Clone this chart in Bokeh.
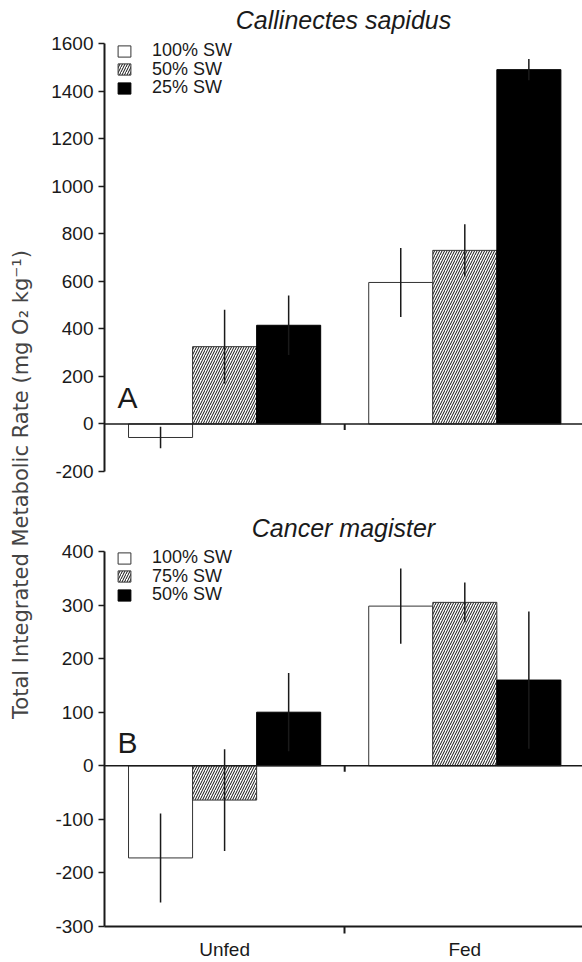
import math

from bokeh.embed import file_html
from bokeh.layouts import column, row
from bokeh.models import FixedTicker, Label, Legend, LegendItem, Range1d, Span
from bokeh.plotting import figure
from bokeh.resources import INLINE

# ---- data -----------------------------------------------------------------
groups = ["Unfed", "Fed"]
group_x = [1, 2]

# Panel A: Callinectes sapidus
cs_labels = ["100% SW", "50% SW", "25% SW"]
cs_100_mean = [-57, 595]
cs_100_se = [45, 145]
cs_50_mean = [325, 730]
cs_50_se = [155, 110]
cs_25_mean = [415, 1490]
cs_25_se = [125, 45]
cs_yticks = [-200, 0, 200, 400, 600, 800, 1000, 1200, 1400, 1600]

# Panel B: Cancer magister
cm_labels = ["100% SW", "75% SW", "50% SW"]
cm_100_mean = [-172, 298]
cm_100_se = [83, 70]
cm_75_mean = [-64, 305]
cm_75_se = [95, 37]
cm_50_mean = [100, 160]
cm_50_se = [73, 128]
cm_yticks = [-300, -200, -100, 0, 100, 200, 300, 400]

y_label = "Total Integrated Metabolic Rate (mg O\u2082 kg\u207b\u00b9)"

# ---- styling ----------------------------------------------------------------
FONT = "Liberation Sans"
INK = "#1a1a1a"
BAR_W = 0.8 / 3
STYLES = [
    dict(fill_color="white", line_color="#333333", line_width=1),
    dict(fill_color="white", line_color="#333333", line_width=1,
         hatch_pattern="/", hatch_color="#111111", hatch_scale=5, hatch_weight=1),
    dict(fill_color="black", line_color="black", line_width=1),
]
PLOT_W = 542
LEFT = 64
HEAD = 9  # free pixels above the top tick, room for the key
KEY_STEP = 18.5


def panel(title, labels, means, errs, yticks, letter, letter_y,
          core_h, border_top, border_bottom, show_x):
    span = yticks[-1] - yticks[0]
    frame_h = core_h + HEAD
    height = border_top + frame_h + border_bottom
    p = figure(width=PLOT_W, height=height,
               x_range=Range1d(0.5, 2.49),
               y_range=Range1d(yticks[0], yticks[-1] + HEAD * span / core_h),
               output_backend="svg", toolbar_location=None,
               x_axis_location="below" if show_x else None,
               min_border_left=LEFT, min_border_right=0,
               min_border_top=border_top, min_border_bottom=border_bottom)
    p.outline_line_color = None
    p.grid.visible = False

    p.title.text = title
    p.title.align = "center"
    p.title.standoff = 1
    p.title.text_font = FONT
    p.title.text_font_style = "italic"
    p.title.text_font_size = "25px"
    p.title.text_color = INK

    boundary = (group_x[0] + group_x[1]) / 2
    renderers = []
    for i, (m, e) in enumerate(zip(means, errs)):
        xs = [g + (i - 1) * BAR_W for g in group_x]
        r = p.vbar(x=xs, top=m, bottom=0, width=BAR_W, **STYLES[i])
        renderers.append(r)
        p.segment(x0=xs, x1=xs,
                  y0=[a - b for a, b in zip(m, e)],
                  y1=[a + b for a, b in zip(m, e)],
                  line_color=INK, line_width=1.5)

    # zero line with a group divider tick
    p.add_layout(Span(location=0, dimension="width",
                      line_color=INK, line_width=1.5))
    tick_units = 6 * span / core_h
    p.segment(x0=[boundary], x1=[boundary], y0=[0], y1=[-tick_units],
              line_color=INK, line_width=2)

    ax = p.yaxis[0]
    ax.ticker = FixedTicker(ticks=yticks)
    ax.bounds = (yticks[0], yticks[-1])
    ax.major_label_overrides = {t: str(t) for t in yticks}
    ax.axis_line_width = 2
    ax.axis_line_color = INK
    ax.major_tick_out = 6
    ax.major_tick_in = 0
    ax.minor_tick_out = 0
    ax.minor_tick_in = 0
    ax.major_tick_line_width = 1.5
    ax.major_tick_line_color = INK
    ax.major_label_standoff = 5
    ax.major_label_text_font = FONT
    ax.major_label_text_font_size = "19px"
    ax.major_label_text_color = INK

    if show_x:
        xa = p.xaxis[0]
        xa.ticker = FixedTicker(ticks=group_x, minor_ticks=[boundary])
        xa.major_label_overrides = {g: name for g, name in zip(group_x, groups)}
        xa.axis_line_width = 2
        xa.axis_line_color = INK
        xa.major_tick_out = 0
        xa.major_tick_in = 0
        xa.minor_tick_out = 7
        xa.minor_tick_in = 0
        xa.minor_tick_line_width = 2
        xa.minor_tick_line_color = INK
        xa.major_label_standoff = 5
        xa.major_label_text_font = FONT
        xa.major_label_text_font_size = "19px"
        xa.major_label_text_color = INK

    p.add_layout(Label(x=0.554, y=letter_y, text=letter, text_font=FONT,
                       text_font_size="30px", text_baseline="bottom",
                       text_color=INK))

    # one key entry per series, stacked tightly under the top tick
    for i, (name, r) in enumerate(zip(labels, renderers)):
        centre = HEAD + 7 + i * KEY_STEP
        lg = Legend(items=[LegendItem(label=name, renderers=[r])],
                    location=(12, frame_h - centre - 11),
                    padding=0, margin=0, spacing=0,
                    glyph_width=16, glyph_height=14, label_height=14,
                    label_standoff=20, label_text_font=FONT,
                    label_text_font_size="18px", label_text_color=INK,
                    border_line_color=None, background_fill_alpha=0)
        p.add_layout(lg)
    return p


top = panel("Callinectes sapidus", cs_labels,
            [cs_100_mean, cs_50_mean, cs_25_mean],
            [cs_100_se, cs_50_se, cs_25_se],
            cs_yticks, "A", 42, core_h=428, border_top=34,
            border_bottom=29, show_x=False)
bottom = panel("Cancer magister", cm_labels,
               [cm_100_mean, cm_75_mean, cm_50_mean],
               [cm_100_se, cm_75_se, cm_50_se],
               cm_yticks, "B", 12, core_h=376, border_top=42,
               border_bottom=35, show_x=True)

# shared vertical axis title
side = figure(width=40, height=962, x_range=Range1d(0, 1),
              y_range=Range1d(0, 962), x_axis_location=None,
              y_axis_location=None, min_border=0, output_backend="svg",
              toolbar_location=None)
side.outline_line_color = None
side.grid.visible = False
side.xgrid.visible = False
side.ygrid.visible = False
side.add_layout(Label(x=0.52, y=478, text=y_label, angle=math.pi / 2,
                      text_align="center", text_baseline="middle",
                      text_font="DejaVu Sans", text_font_size="21px",
                      text_color="#444444"))

layout = row(side, column(top, bottom))

open("out.html", "w").write(file_html(layout, INLINE))
